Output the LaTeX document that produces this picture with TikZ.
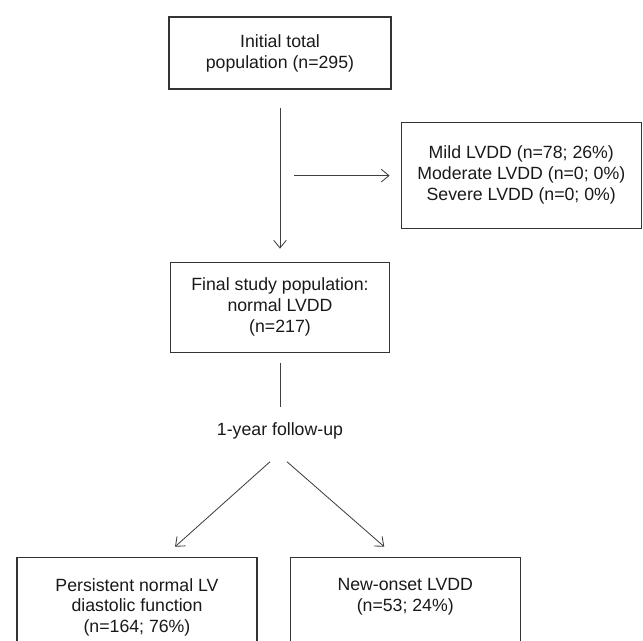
\documentclass[tikz,border=0pt]{standalone}
\usepackage{fontspec}
\setmainfont{Liberation Sans}
\usetikzlibrary{calc, positioning, arrows.meta}

\begin{document}
\begin{tikzpicture}[>={Straight Barb[length=5.5pt, width=9pt]}, node distance=0.8cm, every node/.style={font=\fontsize{12.6}{14.9}\selectfont, text=black!90}]
  \tikzset{box/.style={draw=black!80, line width=0.9pt, align=center},
           link/.style={draw=black!75, line width=0.6pt}}
  \useasboundingbox (0,0) rectangle (16.075,-16.025);
  \clip (0,0) rectangle (16.075,-16.025);

  \node[box, minimum width=5.55cm, minimum height=1.8cm] (init) at (7.0,-1.325) {Initial total\\population (n=295)};
  \node[box, below=4.3cm of init, minimum width=5.475cm, minimum height=2.25cm] (final) {Final study population:\\normal LVDD\\(n=217)};
  \node[box, below right=0.8cm and 0.225cm of init, minimum width=6cm, minimum height=2.65cm] (lvdd) {Mild LVDD (n=78; 26\%)\\Moderate LVDD (n=0; 0\%)\\Severe LVDD (n=0; 0\%)};
  \node[below=1.625cm of final] (fu) {1-year follow-up};
  \node[box, below=2.81cm of fu, xshift=-3.575cm, minimum width=6cm, minimum height=2.5cm] (persist) {Persistent normal LV\\diastolic function\\(n=164; 76\%)};
  \node[box, right=0.8cm of persist, minimum width=5.75cm, minimum height=2.5cm, text depth=0.615cm] (newonset) {New-onset LVDD\\(n=53; 24\%)};

  % excluded branch leaves the main line halfway down
  \coordinate (branch) at ($(init.south)!0.5!(final.north)$);
  \draw[link, ->, shorten <=0.45cm, shorten >=0.325cm] (init.south) -- (final.north);
  \draw[link, ->, shorten <=0.35cm, shorten >=0.275cm] (branch) -- (branch -| lvdd.west);

  \draw[link, shorten <=0.25cm, shorten >=0.275cm] (final.south) -- (fu.north);
  \draw[link, ->] ([xshift=-0.25cm, yshift=-0.435cm]fu.south) -- ([xshift=0.95cm, yshift=0.25cm]persist.north);
  \draw[link, ->] ([xshift=0.175cm, yshift=-0.435cm]fu.south) -- ([xshift=-0.525cm, yshift=0.25cm]newonset.north);
\end{tikzpicture}
\end{document}
